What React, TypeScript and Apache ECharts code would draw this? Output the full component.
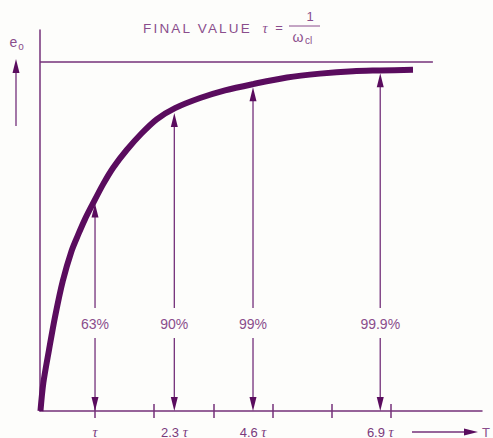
import React, { useEffect, useRef } from "react";
import * as echarts from "echarts";

// Step response curve (x in units of tau, y as fraction of final value)
const curveT = [0.078, 0.126, 0.222, 0.324, 0.454, 0.602, 0.717, 0.831, 0.944, 1.14, 1.309, 1.535, 1.789, 2.042, 2.352, 2.775, 3.197, 3.67, 4.244, 4.802, 5.36, 5.816, 6.374];
const curveV = [0, 0.08, 0.175, 0.27, 0.372, 0.458, 0.506, 0.55, 0.588, 0.651, 0.698, 0.748, 0.796, 0.836, 0.868, 0.897, 0.919, 0.937, 0.956, 0.967, 0.974, 0.976, 0.978];

// Final value line
const finalT = [0.07, 6.71];
const finalV = [1, 1];

// Double arrows
const arrowT = [1.0, 2.34, 3.67, 5.82];
const arrowTop = [0.595, 0.854, 0.928, 0.968];
const arrowLabels = ["63%", "90%", "99%", "99.9%"];

// Axis ticks & labels
const tickValues = [1, 2, 3, 4, 5, 6];
const tickLabels = ["τ", "2.3 τ", "4.6 τ", "6.9 τ"];

const X_MIN = 0.07;
const X_MAX = 7.54;
const Y_MAX = 1.092;

const CURVE = "#5a0c5e";
const LINE = "#74307a";
const TEXT = "#8a4d8c";
const AXTEXT = "#7a3a7c";
const SANS = '"Liberation Sans", Arial, Helvetica, sans-serif';
const SERIF = '"Liberation Serif", "DejaVu Serif", serif';

export default function App() {
  const ref = useRef<HTMLDivElement>(null);

  useEffect(() => {
    if (!ref.current) return;
    const chart = echarts.init(ref.current, null, { renderer: "svg" });

    const gapLow = 0.209;
    const gapHigh = 0.295;
    const labelV = 0.249;

    const option: any = {
      animation: false,
      backgroundColor: "#fdfdfb",
      grid: { left: 40, right: 11, top: 30, bottom: 27, outerBoundsMode: "none" },
      xAxis: [
        {
          type: "value",
          min: X_MIN,
          max: X_MAX,
          position: "bottom",
          axisLine: { show: true, lineStyle: { color: LINE, width: 1.5 } },
          axisTick: {
            show: true,
            customValues: tickValues,
            length: 7,
            lineStyle: { color: LINE, width: 1.5 },
          },
          axisLabel: {
            show: true,
            customValues: arrowT,
            margin: 14,
            color: AXTEXT,
            fontSize: 13,
            fontFamily: SANS,
            formatter: (value: number) => {
              const i = arrowT.findIndex((t) => Math.abs(t - value) < 1e-6);
              const s = i >= 0 ? tickLabels[i] : "";
              return s.replace("τ", "{i|τ}");
            },
            rich: {
              i: { fontStyle: "italic", fontFamily: SERIF, fontSize: 14, color: AXTEXT },
            },
          },
          splitLine: { show: false },
        },
        {
          type: "value",
          min: X_MIN,
          max: X_MAX,
          position: "bottom",
          axisLine: { show: false },
          axisTick: {
            show: true,
            inside: true,
            customValues: tickValues,
            length: 7,
            lineStyle: { color: LINE, width: 1.5 },
          },
          axisLabel: { show: false },
          splitLine: { show: false },
        },
      ],
      yAxis: {
        type: "value",
        min: 0,
        max: Y_MAX,
        axisLine: { show: true, lineStyle: { color: LINE, width: 1.5 } },
        axisTick: { show: false },
        axisLabel: { show: false },
        splitLine: { show: false },
      },
      series: [
        {
          type: "line",
          data: finalT.map((t, i) => [t, finalV[i]]),
          symbol: "none",
          lineStyle: { color: LINE, width: 1.5 },
          silent: true,
        },
        {
          type: "line",
          data: curveT.map((t, i) => [t, curveV[i]]),
          smooth: 0.3,
          symbol: "none",
          lineStyle: { color: CURVE, width: 6 },
          silent: true,
        },
        {
          type: "custom",
          silent: true,
          data: arrowT.map((t, i) => [t, arrowTop[i]]),
          renderItem: (params: any, api: any) => {
            const i = params.dataIndex;
            const t = api.value(0);
            const top = api.value(1);
            const [x, yTop] = api.coord([t, top]);
            const yBot = api.coord([t, 0])[1];
            const yGapHi = api.coord([t, gapHigh])[1];
            const yGapLo = api.coord([t, gapLow])[1];
            const yLab = api.coord([t, labelV])[1];
            const head = 14;
            const hw = 3.5;
            const ls = { stroke: LINE, lineWidth: 1.3 };
            return {
              type: "group",
              children: [
                { type: "line", shape: { x1: x, y1: yTop + head - 2, x2: x, y2: yGapHi }, style: ls },
                { type: "line", shape: { x1: x, y1: yGapLo, x2: x, y2: yBot - head + 2 }, style: ls },
                {
                  type: "polygon",
                  shape: { points: [[x, yTop], [x - hw, yTop + head], [x + hw, yTop + head]] },
                  style: { fill: CURVE },
                },
                {
                  type: "polygon",
                  shape: { points: [[x, yBot], [x - hw, yBot - head], [x + hw, yBot - head]] },
                  style: { fill: CURVE },
                },
                {
                  type: "text",
                  x,
                  y: yLab,
                  style: {
                    text: arrowLabels[i],
                    align: "center",
                    verticalAlign: "middle",
                    fill: TEXT,
                    font: `14px ${SANS}`,
                  },
                },
              ],
            };
          },
        },
      ],
      graphic: [
        // Title
        {
          type: "text",
          x: 143,
          y: 28,
          style: { text: "FINAL VALUE", align: "left", verticalAlign: "middle", fill: TEXT, font: `13.5px ${SANS}` },
        },
        {
          type: "text",
          x: 265,
          y: 28,
          style: { text: "τ", align: "center", verticalAlign: "middle", fill: TEXT, font: `italic 14px ${SERIF}` },
        },
        {
          type: "text",
          x: 279,
          y: 27,
          style: { text: "=", align: "center", verticalAlign: "middle", fill: TEXT, font: `13px ${SANS}` },
        },
        {
          type: "text",
          x: 310,
          y: 16,
          style: { text: "1", align: "center", verticalAlign: "middle", fill: TEXT, font: `13px ${SANS}` },
        },
        {
          type: "line",
          shape: { x1: 289, y1: 26, x2: 320, y2: 26 },
          style: { stroke: TEXT, lineWidth: 1 },
        },
        {
          type: "text",
          x: 298,
          y: 37,
          style: { text: "ω", align: "center", verticalAlign: "middle", fill: TEXT, font: `14px ${SANS}` },
        },
        {
          type: "text",
          x: 305,
          y: 40,
          style: { text: "cl", align: "left", verticalAlign: "middle", fill: TEXT, font: `10px ${SANS}` },
        },
        // e_o label
        {
          type: "text",
          x: 13.5,
          y: 42,
          style: { text: "e", align: "center", verticalAlign: "middle", fill: TEXT, font: `14px ${SANS}` },
        },
        {
          type: "text",
          x: 21,
          y: 46.5,
          style: { text: "o", align: "center", verticalAlign: "middle", fill: TEXT, font: `10px ${SANS}` },
        },
        // y arrow
        {
          type: "line",
          shape: { x1: 16, y1: 71, x2: 16, y2: 126 },
          style: { stroke: LINE, lineWidth: 1.3 },
        },
        {
          type: "polygon",
          shape: { points: [[16, 59], [12.5, 73], [19.5, 73]] },
          style: { fill: CURVE },
        },
        // T arrow
        {
          type: "line",
          shape: { x1: 412, y1: 432, x2: 467, y2: 432 },
          style: { stroke: LINE, lineWidth: 1.5 },
        },
        {
          type: "polygon",
          shape: { points: [[478, 432], [464, 428.5], [464, 435.5]] },
          style: { fill: CURVE },
        },
        {
          type: "text",
          x: 482,
          y: 432,
          style: { text: "T", align: "left", verticalAlign: "middle", fill: TEXT, font: `13px ${SANS}` },
        },
      ],
    };

    chart.setOption(option);
    return () => chart.dispose();
  }, []);

  return (
    <>
      <style>{`#chart text[style*="13.5px"]{letter-spacing:2.2px;}`}</style>
      <div
        id="chart"
        ref={ref}
        style={{ position: "absolute", left: 0, top: 0, width: 493, height: 438, background: "#fdfdfb" }}
      />
    </>
  );
}
